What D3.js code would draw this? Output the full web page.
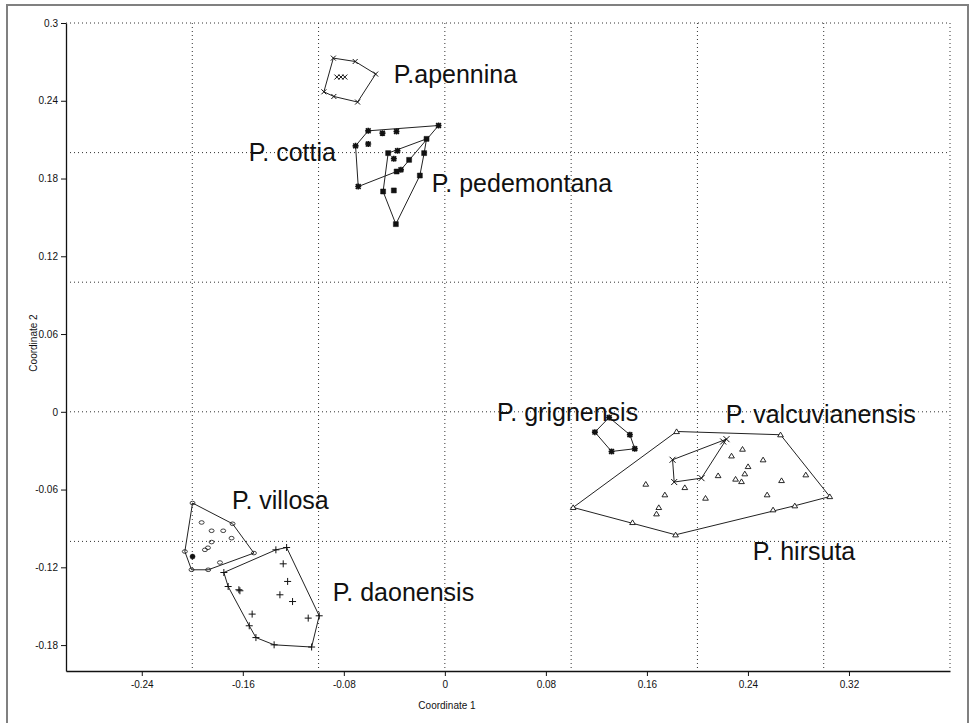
<!DOCTYPE html>
<html>
<head>
<meta charset="utf-8">
<script src="https://d3js.org/d3.v7.min.js"></script>
<style>
  body { margin: 0; background: #fff; }
  text { font-family: Arial, "Liberation Sans", sans-serif; }
</style>
</head>
<body>
<script>
// Coordinate 1 / Coordinate 2 values, one array per species
var apennina = [[-0.0883,0.2729],[-0.0710,0.2703],[-0.0548,0.2606],[-0.0691,0.2390],[-0.0879,0.2433],
  [-0.0958,0.2469],[-0.0855,0.2583],[-0.0823,0.2583],[-0.0792,0.2583]];
var cottia = [[-0.0607,0.2168],[-0.0494,0.2150],[-0.0383,0.2163],[-0.0050,0.2209],[-0.0707,0.2052],
  [-0.0607,0.2066],[-0.0375,0.2014],[-0.0404,0.1952],[-0.0348,0.1867],[-0.0686,0.1738]];
var pedemontana = [[-0.0449,0.1996],[-0.0145,0.2106],[-0.0164,0.1996],[-0.0283,0.1944],[-0.0382,0.1854],
  [-0.0198,0.1823],[-0.0489,0.1700],[-0.0404,0.1708],[-0.0388,0.1448]];
var villosa = [[-0.1998,-0.0704],[-0.1681,-0.0864],[-0.1512,-0.1090],[-0.1781,-0.1163],[-0.1874,-0.1219],
  [-0.2006,-0.1219],[-0.2059,-0.1078],[-0.1926,-0.0854],[-0.1847,-0.0918],[-0.1755,-0.0918],
  [-0.1689,-0.0975],[-0.1847,-0.1005],[-0.1900,-0.1065],[-0.1876,-0.1049]];
var villosaDot = [[-0.1998,-0.1117]];
var daonensis = [[-0.1338,-0.1065],[-0.1253,-0.1047],[-0.0995,-0.1574],[-0.1055,-0.1815],[-0.1352,-0.1798],
  [-0.1496,-0.1742],[-0.1549,-0.1651],[-0.1716,-0.1348],[-0.1750,-0.1240],[-0.1280,-0.1173],
  [-0.1245,-0.1309],[-0.1631,-0.1373],[-0.1623,-0.1381],[-0.1306,-0.1412],[-0.1206,-0.1464],
  [-0.1526,-0.1561],[-0.1082,-0.1592]];
var grignensis = [[0.1301,-0.0044],[0.1465,-0.0177],[0.1504,-0.0285],[0.1320,-0.0306],[0.1188,-0.0157]];
var valcuvianensis = [[0.1803,-0.0370],[0.2230,-0.0211],[0.2204,-0.0229],[0.2032,-0.0512],[0.1816,-0.0542]];
var hirsuta = [[0.1016,-0.0738],[0.1835,-0.0152],[0.2658,-0.0177],[0.3048,-0.0654],[0.2771,-0.0725],
  [0.2599,-0.0756],[0.1827,-0.0949],[0.1486,-0.0854],[0.2357,-0.0288],[0.2270,-0.0340],
  [0.2520,-0.0370],[0.2401,-0.0422],[0.2375,-0.0478],[0.2164,-0.0492],[0.2302,-0.0519],
  [0.2349,-0.0538],[0.2666,-0.0530],[0.2858,-0.0486],[0.1591,-0.0558],[0.1900,-0.0584],
  [0.1742,-0.0640],[0.2064,-0.0666],[0.2552,-0.0640],[0.1694,-0.0738],[0.1676,-0.0787]];

var speciesNames = ["P.apennina","P. cottia","P. pedemontana","P. villosa","P. daonensis",
  "P. grignensis","P. valcuvianensis","P. hirsuta"];
var labelAt = [[-0.0404,0.2539],[-0.1552,0.1937],[-0.0103,0.1698],[-0.1686,-0.0748],[-0.0887,-0.1458],
  [0.0412,-0.0069],[0.2225,-0.0085],[0.2439,-0.1142]];

var xTicks = [-0.24,-0.16,-0.08,0,0.08,0.16,0.24,0.32];
var yTicks = [0.3,0.24,0.18,0.12,0.06,0,-0.06,-0.12,-0.18];
var gridX = [-0.2,-0.1,0,0.1,0.2,0.3,0.4];
var gridY = [-0.1,0,0.1,0.2,0.3];

var width = 969, height = 723;
var svg = d3.select("body").append("svg").attr("width", width).attr("height", height);

// window frame
svg.append("rect").attr("x", 7).attr("y", 5).attr("width", 961).attr("height", 730)
   .attr("fill", "none").attr("stroke", "#808080").attr("stroke-width", 2);

var x = d3.scaleLinear().domain([-0.3, 0.4]).range([66, 950]);
var y = d3.scaleLinear().domain([-0.2, 0.3]).range([671, 23]);

// dotted grid
svg.selectAll(".gx").data(gridX).enter().append("line")
   .attr("x1", function(d) { return x(d); }).attr("x2", function(d) { return x(d); })
   .attr("y1", y(0.3)).attr("y2", y(-0.2))
   .attr("stroke", "#333").attr("stroke-dasharray", "1,3");
svg.selectAll(".gy").data(gridY).enter().append("line")
   .attr("y1", function(d) { return y(d); }).attr("y2", function(d) { return y(d); })
   .attr("x1", x(-0.3)).attr("x2", x(0.4))
   .attr("stroke", "#333").attr("stroke-dasharray", "1,3");

var fmt = function(d) { return d === 0 ? "0" : String(+d.toFixed(2)); };

var xAxis = svg.append("g").attr("transform", "translate(0," + y(-0.2) + ")")
   .call(d3.axisBottom(x).tickValues(xTicks).tickFormat(fmt).tickSize(5).tickSizeOuter(0).tickPadding(5));
var yAxis = svg.append("g").attr("transform", "translate(" + x(-0.3) + ",0)")
   .call(d3.axisLeft(y).tickValues(yTicks).tickFormat(fmt).tickSize(5).tickSizeOuter(0).tickPadding(3));
[xAxis, yAxis].forEach(function(g) {
  g.selectAll("text").attr("font-size", 10).attr("fill", "#111").style("font-family", "Arial, 'Liberation Sans', sans-serif");
  g.selectAll("line").attr("stroke", "#111");
  g.select(".domain").attr("stroke", "#111").attr("stroke-width", 1.3);
});

svg.append("text").attr("x", 447).attr("y", 709).attr("text-anchor", "middle")
   .attr("font-size", 10).attr("fill", "#111").text("Coordinate 1");
svg.append("text").attr("transform", "translate(37,343) rotate(-90)").attr("text-anchor", "middle")
   .attr("font-size", 10).attr("fill", "#111").text("Coordinate 2");

// convex hulls
var groups = [apennina, cottia, pedemontana, villosa, daonensis, grignensis, valcuvianensis, hirsuta];
groups.forEach(function(pts) {
  var hull = d3.polygonHull(pts.map(function(p) { return [x(p[0]), y(p[1])]; }));
  svg.append("path").attr("d", "M" + hull.join("L") + "Z")
     .attr("fill", "none").attr("stroke", "#222").attr("stroke-width", 1);
});

// markers
function times(s) { return "M" + (-s) + "," + (-s) + "L" + s + "," + s + "M" + (-s) + "," + s + "L" + s + "," + (-s); }
function plus(s) { return "M" + (-s) + ",0L" + s + ",0M0," + (-s) + "L0," + s; }
function star(s) { return times(s * 0.8) + plus(s); }
function tri(s) { return "M0," + (-s) + "L" + (s * 1.1) + "," + (s * 0.8) + "L" + (-s * 1.1) + "," + (s * 0.8) + "Z"; }

function mark(pts, shape, fill, sw) {
  svg.append("g").selectAll("path").data(pts).enter().append("path")
     .attr("transform", function(d) { return "translate(" + x(d[0]) + "," + y(d[1]) + ")"; })
     .attr("d", shape).attr("fill", fill).attr("stroke", "#111").attr("stroke-width", sw);
}
mark(apennina, times(2.5), "none", 1);
mark(cottia, star(3), "none", 1.6);
mark(pedemontana, "M-2.5,-2.5h5v5h-5Z", "#111", 0.5);
mark(villosa, "M-2.5,0a2.5,1.8 0 1,0 5,0a2.5,1.8 0 1,0 -5,0", "none", 0.8);
mark(villosaDot, "M-2.5,0a2.5,2.5 0 1,0 5,0a2.5,2.5 0 1,0 -5,0", "#111", 0.5);
mark(daonensis, plus(3.5), "none", 1);
mark(grignensis, star(3), "none", 1.6);
mark(valcuvianensis, times(3), "none", 1);
mark(hirsuta, tri(2.6), "#fff", 0.9);

// species names
svg.selectAll(".lab").data(speciesNames).enter().append("text")
   .attr("x", function(d, i) { return x(labelAt[i][0]); })
   .attr("y", function(d, i) { return y(labelAt[i][1]); })
   .attr("font-size", 25).attr("fill", "#111")
   .text(function(d) { return d; });
</script>
</body>
</html>
